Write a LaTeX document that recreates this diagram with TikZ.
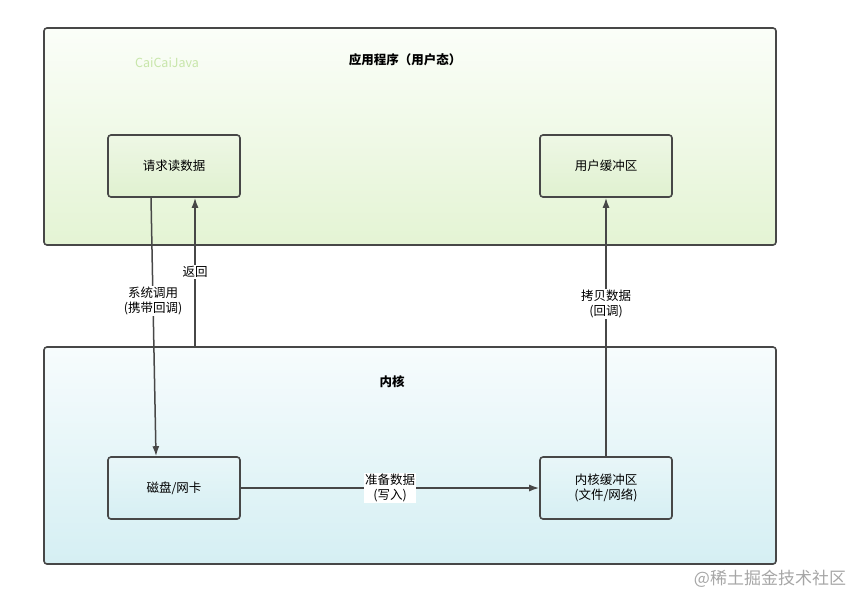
\documentclass[tikz,border=0pt]{standalone}
\usepackage{fontspec}
\setmainfont{Noto Sans CJK SC}
\usetikzlibrary{arrows.meta,positioning}
\definecolor{edge}{HTML}{474747}
\definecolor{usertop}{HTML}{FBFEF9}
\definecolor{userbot}{HTML}{E4F4D4}
\definecolor{kerntop}{HTML}{F7FCFD}
\definecolor{kernbot}{HTML}{D5EFF3}
\definecolor{greenbox}{HTML}{E0F1D0}
\definecolor{bluebox}{HTML}{D6EFF3}
\definecolor{mark}{HTML}{C8E6AA}
\tikzset{
  frame/.style={draw=edge, line width=1.6pt, rounded corners=3pt, minimum width=732, minimum height=217},
  box/.style={draw=edge, line width=1.6pt, rounded corners=3pt, minimum width=132, minimum height=62, align=center, font=\fontsize{12.5}{15}\selectfont},
  lbl/.style={fill=white, inner sep=1pt, align=center, font=\fontsize{12.5}{15}\selectfont},
  flow/.style={->, draw=edge, line width=1.5pt}
}
\begin{document}
\begin{tikzpicture}[x=1pt, y=-1pt, >={Latex[length=10pt,width=7pt]}]
\useasboundingbox (0,0) rectangle (858,597);
% frames
\node[frame, top color=usertop, bottom color=userbot] (user) at (410,136.5) {};
\node[frame, top color=kerntop, bottom color=kernbot] (kernel) at (410,455.5) {};
\node[font=\bfseries\fontsize{12.5}{15}\selectfont] (usertitle) at (405,60) {应用程序（用户态）};
\node[font=\fontsize{12.5}{15}\selectfont, text=mark] (brand) at (167,63) {CaiCaiJava};
\node[font=\bfseries\fontsize{12.5}{15}\selectfont] (kerneltitle) at (392,382) {内核};
% boxes
\node[box, top color=greenbox!55, bottom color=greenbox] (read) at (174,166) {请求读数据};
\node[box, top color=greenbox!55, bottom color=greenbox] (ubuf) at (606,166) {用户缓冲区};
\node[box, top color=bluebox!55, bottom color=bluebox] (disk) at (174,488) {磁盘/网卡};
\node[box, top color=bluebox!55, bottom color=bluebox] (kbuf) at (606,488) {内核缓冲区\\(文件/网络)};
% arrows
\coordinate (retfoot) at ([xshift=21pt]read.south |- kernel.north);
\draw[flow] ([xshift=-23pt]read.south) -- ([xshift=-18pt]disk.north)
  node[lbl, pos=0.4] {系统调用\\(携带回调)};
\draw[flow] (retfoot) -- ([xshift=21pt]read.south) node[lbl, pos=0.5] {返回};
\draw[flow] (kbuf.north) -- (ubuf.south) node[lbl, pos=0.59] {拷贝数据\\(回调)};
\draw[flow] (disk.east) -- (kbuf.west) node[lbl, midway] {准备数据\\(写入)};
% watermark
\node[font=\fontsize{17}{19}\selectfont, text=black!35] (wm) at (770,579) {@稀土掘金技术社区};
\end{tikzpicture}
\end{document}
